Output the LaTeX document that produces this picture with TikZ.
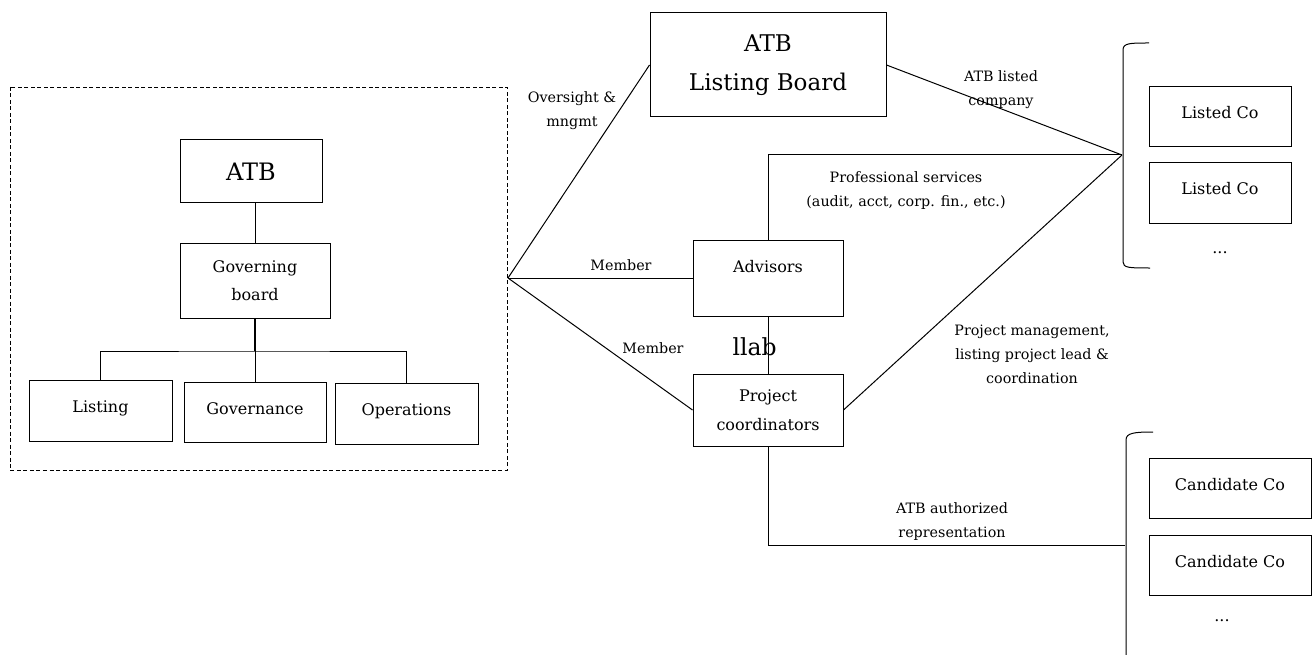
\documentclass[tikz,border=0pt]{standalone}
\usepackage{fontspec}
\setmainfont{DejaVu Serif}
\begin{document}
\begin{tikzpicture}[x=1pt,y=-1pt,line width=1pt,
  box/.style={draw,rectangle,inner sep=0pt,align=center,font=\fontsize{16}{28.5}\selectfont},
  onebox/.style={box,text height=12pt,text depth=8pt},
  lbl/.style={align=center,inner sep=0pt,font=\fontsize{14.3}{24}\selectfont},
  bigtext/.style={font=\fontsize{23}{38.5}\selectfont},
  conn/.style={draw,line width=1pt}]
\useasboundingbox (0,0) rectangle (1314,655);

% dashed frame
\draw[dash pattern=on 4pt off 2.5pt,line width=0.9pt] (10,87) rectangle (507,470);

% left org chart
\node[box,font=\fontsize{24}{38}\selectfont,minimum width=142pt,minimum height=63pt] (atb) at (251,171.5) {ATB};
\node[box,minimum width=150pt,minimum height=75pt] (gov) at (255,280.5) {Governing\\board};
\node[onebox,minimum width=143pt,minimum height=61pt] (listing) at (100.5,410.5) {Listing};
\node[onebox,minimum width=142pt,minimum height=60pt] (governance) at (255,412) {Governance};
\node[onebox,minimum width=143pt,minimum height=61pt] (operations) at (406.5,413.5) {Operations};
\coordinate (bus) at (255,351);
\draw[conn] (gov.north) -- (gov.north |- atb.south);
\draw[conn,line width=1.4pt] (gov.south) -- (bus);
\draw[conn] (listing.north) |- (bus) -| (operations.north);
\draw[conn] (bus) -- (governance.north);

% hub
\coordinate (hub) at (508,278);
\coordinate (lpt) at (1122,155);
\coordinate (cpt) at (1125,545);

% center boxes
\node[box,bigtext,minimum width=236pt,minimum height=104pt] (lb) at (768,65) {ATB\\Listing Board};
\node[box,text height=12pt,text depth=24pt,minimum width=150pt,minimum height=76pt] (adv) at (768,278) {Advisors};
\node[box,minimum width=150pt,minimum height=72pt] (pc) at (768,410) {Project\\coordinators};

% right boxes
\node[onebox,minimum width=142pt,minimum height=60pt] (lc1) at (1220,117) {Listed Co};
\node[onebox,minimum width=142pt,minimum height=60pt] (lc2) at (1220,193) {Listed Co};
\node[lbl,font=\fontsize{16}{20}\selectfont] (ldots) at (1220,253) {...};
\node[onebox,minimum width=162pt,minimum height=60pt] (cc1) at (1230,488) {Candidate Co};
\node[onebox,minimum width=162pt,minimum height=60pt] (cc2) at (1230,565) {Candidate Co};
\node[lbl,font=\fontsize{16}{20}\selectfont] (cdots) at (1222,621) {...};

% brackets
\draw (1149,43) .. controls (1130,43) and (1123,43) .. (1123,50) -- (1123,262) .. controls (1123,268) and (1130,268) .. (1150,268);
\draw (1153,432) .. controls (1134,432) and (1126,433) .. (1126,440) -- (1126,655);

% connectors
\draw[conn] (hub) -- (lb.west);
\draw[conn] (hub) -- (adv.west);
\draw[conn] (hub) -- (pc.west);
\draw[conn] (lb.east) -- (lpt);
\draw[conn] (adv.north) |- (lpt);
\draw[conn] (pc.east) -- (lpt);
\draw[conn] (adv.south) -- (pc.north);
\draw[conn] (pc.south) |- (cpt);

% labels
\node[lbl] (l1) at (572,111) {Oversight \&\\mngmt};
\node[lbl] (l2) at (1001,90) {ATB listed\\company};
\node[lbl] (l3) at (621,265) {Member};
\node[lbl] (l4) at (653,348) {Member};
\node[lbl] (l5) at (906,191) {Professional services\\(audit, acct, corp. fin., etc.)};
\node[lbl] (l6) at (1032,354) {Project management,\\listing project lead \&\\coordination};
\node[lbl] (l7) at (952,522) {ATB authorized\\representation};
\node[font=\fontsize{23.5}{30}\selectfont,anchor=base west,inner sep=0pt] (collab) at (732,355) {llab};
\end{tikzpicture}
\end{document}
